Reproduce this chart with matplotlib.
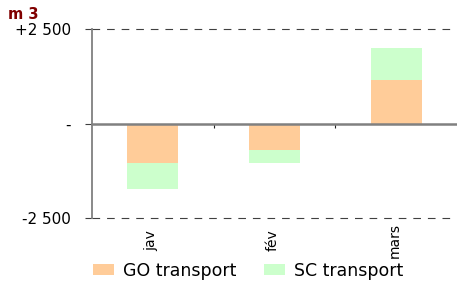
import matplotlib
matplotlib.use("Agg")
import matplotlib.pyplot as plt
from matplotlib.patches import Patch

plt.rcParams['font.family'] = ['DejaVu Sans']
plt.rcParams['lines.scale_dashes'] = False

months = ["jav", "fév", "mars"]
go_transport = [-1050, -710, 1140]
sc_transport = [-690, -345, 870]
y_ticks = [-2500, 0, 2500]
y_tick_labels = ["-2 500", "-", "+2 500"]

go_color = "#FFCC99"
sc_color = "#CCFFCC"

fig = plt.figure(figsize=(4.57, 2.85), dpi=100)
ax = fig.add_axes([0.2013, 0.235, 0.7987, 0.663])

x = list(range(len(months)))
ax.bar(x, go_transport, width=0.42, color=go_color, zorder=2)
ax.bar(x, sc_transport, width=0.42, bottom=go_transport, color=sc_color, zorder=2)

ax.set_xlim(-0.5, len(months) - 0.5)
ax.set_ylim(-2500, 2500)

# dashed lines at the limits
for yv in (-2500, 2500):
    ax.axhline(yv, color="#404040", lw=0.8, linestyle=(0, (5.5, 5)),
               zorder=1, clip_on=False)

ax.spines['top'].set_visible(False)
ax.spines['right'].set_visible(False)
ax.spines['left'].set_color("#808080")
ax.spines['left'].set_linewidth(1.3)
ax.spines['bottom'].set_position(('data', 0))
ax.spines['bottom'].set_color("#808080")
ax.spines['bottom'].set_linewidth(1.8)
ax.spines['bottom'].set_zorder(3)

ax.set_yticks(y_ticks)
ax.set_yticklabels(y_tick_labels, fontsize=11)
ax.tick_params(axis='y', length=5, width=0.8, color="#404040", pad=10)

ax.set_xticks([0.5, 1.5])
ax.set_xticklabels([])
ax.tick_params(axis='x', length=3, width=0.8, color="#202020")

for xi, lab in zip(x, months):
    ax.annotate(lab, xy=(xi, 0), xycoords=('data', 'axes fraction'),
                xytext=(-1, -16), textcoords='offset points',
                rotation=90, ha='center', va='center', fontsize=10)

fig.text(0.018, 0.975, "m 3", color="#800000", fontsize=10.5, fontweight='bold',
         ha='left', va='top')

handles = [Patch(facecolor=go_color, label="GO transport"),
           Patch(facecolor=sc_color, label="SC transport")]
fig.legend(handles=handles, loc='center', bbox_to_anchor=(0.543, 0.05),
           ncol=2, frameon=False, fontsize=12.5, handlelength=1.2,
           handleheight=0.6, handletextpad=0.5, columnspacing=1.6)

fig.savefig("out.png", dpi=100)
